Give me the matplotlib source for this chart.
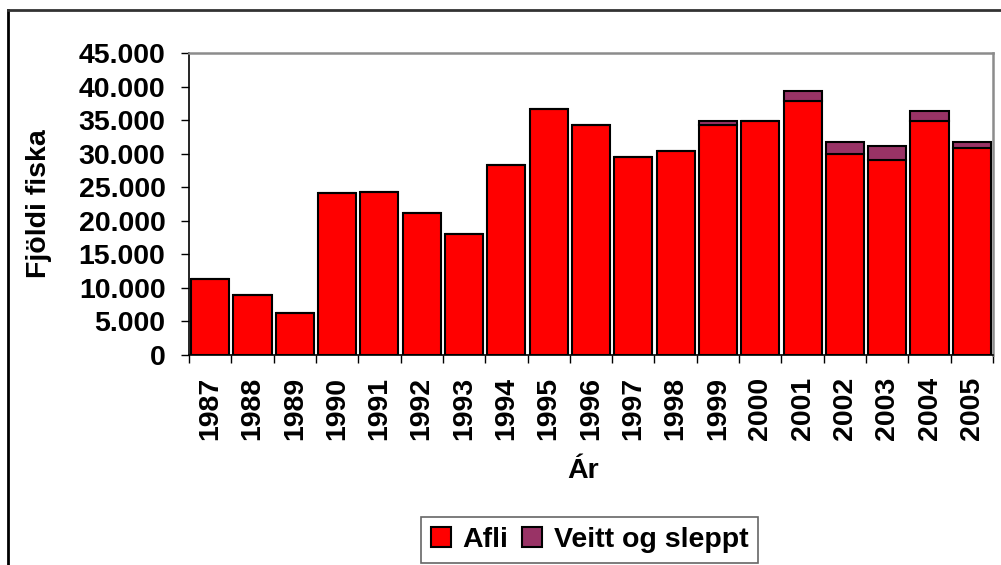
import matplotlib
matplotlib.use("Agg")
import matplotlib.pyplot as plt
from matplotlib.lines import Line2D
from matplotlib.ticker import FuncFormatter, FixedLocator
import numpy as np

years = ["1987", "1988", "1989", "1990", "1991", "1992", "1993", "1994", "1995", "1996",
         "1997", "1998", "1999", "2000", "2001", "2002", "2003", "2004", "2005"]
afli = [11300, 8900, 6200, 24100, 24300, 21200, 18000, 28300, 36600, 34200,
        29500, 30400, 34200, 34900, 37800, 30000, 29100, 34900, 30900]
veitt = [0, 0, 0, 0, 0, 0, 0, 0, 0, 0,
         0, 0, 700, 0, 1500, 1800, 2100, 1500, 900]
yticks = [0, 5000, 10000, 15000, 20000, 25000, 30000, 35000, 40000, 45000]

plt.rcParams['font.family'] = ['Liberation Sans', 'DejaVu Sans']
plt.rcParams['font.weight'] = 'bold'
FS = 20.5

W, H = 1001, 565
fig = plt.figure(figsize=(W / 100, H / 100), dpi=100)
ax = fig.add_axes([189 / W, 1 - 355 / H, (993 - 189) / W, (355 - 53) / H])

x = np.arange(len(years))
ax.bar(x, afli, width=0.9, color='#FF0000', edgecolor='black', linewidth=1.5, label='Afli')
ax.bar(x, veitt, width=0.9, bottom=afli, color='#993366', edgecolor='black', linewidth=1.5,
       label='Veitt og sleppt')

ax.set_xlim(-0.5, len(years) - 0.5)
ax.set_ylim(0, 45000)
ax.set_yticks(yticks)
ax.yaxis.set_major_formatter(FuncFormatter(lambda v, p: f"{int(v):,}".replace(",", ".")))
ax.tick_params(axis='y', length=6, width=1, pad=11, labelsize=FS, direction='out')

ax.set_xticks(x)
ax.set_xticklabels(years, rotation=90, fontsize=FS, fontweight='bold')
ax.xaxis.set_minor_locator(FixedLocator(np.arange(-0.5, len(years), 1.0)))
ax.tick_params(axis='x', which='major', length=0, pad=16)
ax.tick_params(axis='x', which='minor', length=6, width=1, direction='out')
for lab in ax.get_yticklabels():
    lab.set_fontweight('bold')

for s in ['left', 'bottom']:
    ax.spines[s].set_color('black')
    ax.spines[s].set_linewidth(1.2)
for s in ['top', 'right']:
    ax.spines[s].set_color('#8c8c8c')
    ax.spines[s].set_linewidth(1.8)

ax.set_ylabel('Fjöldi fiska', fontsize=FS, fontweight='bold')
ax.yaxis.set_label_coords(-0.170, 0.5)
ax.set_xlabel('Ár', fontsize=FS, fontweight='bold')
ax.xaxis.set_label_coords((583 - 189) / 804, (355 - 471) / 302)
ax.xaxis.label.set_verticalalignment('center')

leg = fig.legend(loc='center', bbox_to_anchor=(589.5 / W, 1 - 540 / H), ncol=2,
                 frameon=True, fancybox=False, edgecolor='#404040',
                 handlelength=0.7, handleheight=0.7, handletextpad=0.4, columnspacing=0.5,
                 borderpad=0.35, prop={'weight': 'bold', 'size': FS})
leg.get_frame().set_linewidth(1.2)

fig.add_artist(Line2D([7.5 / W, 7.5 / W], [1 - 9.5 / H, -0.01], color='black', lw=2,
                      transform=fig.transFigure))
fig.add_artist(Line2D([7.5 / W, 1.01], [1 - 9.5 / H, 1 - 9.5 / H], color='#333333', lw=2,
                      transform=fig.transFigure))

fig.savefig('out.png', dpi=100)
